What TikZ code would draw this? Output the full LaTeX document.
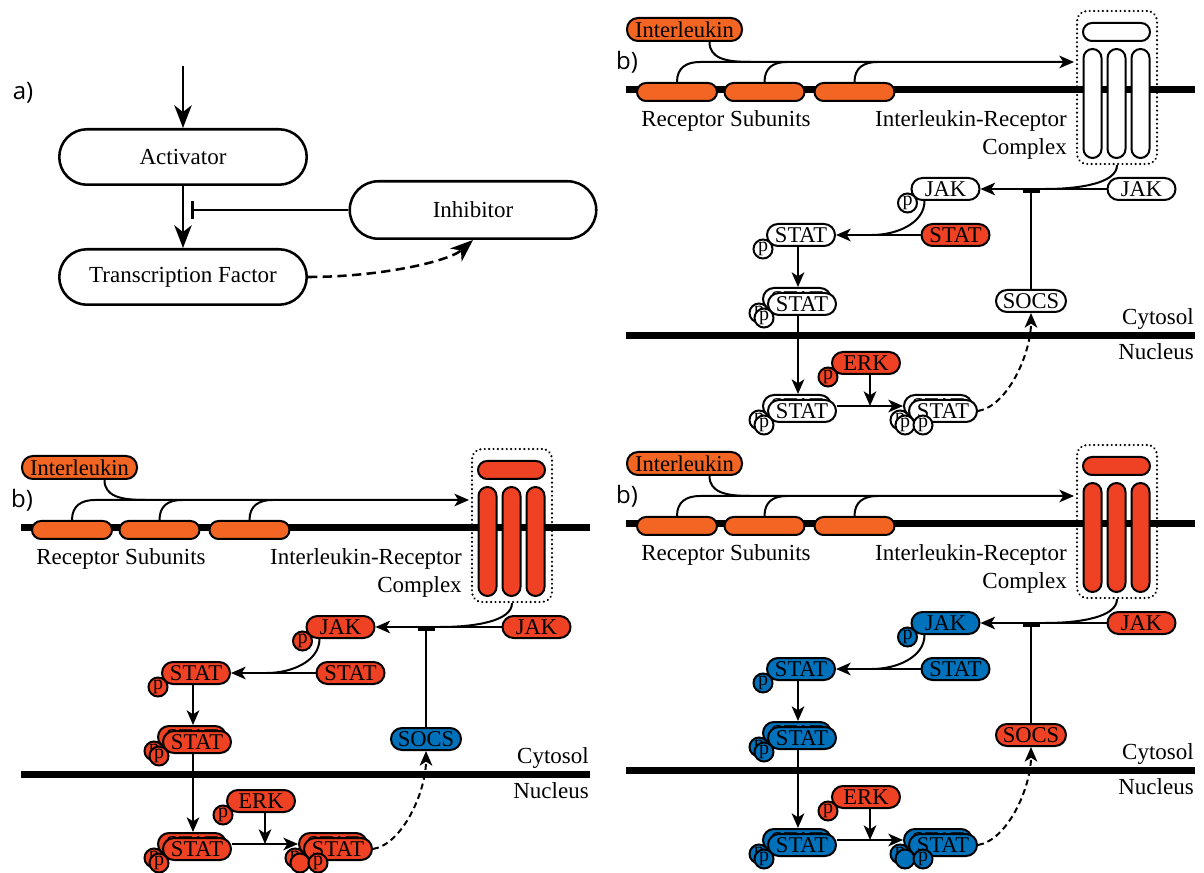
\documentclass[tikz,border=0pt]{standalone}
\usepackage{fontspec}
\setmainfont{Liberation Serif}
\newfontfamily\lblfont{Open Sans}
\newfontfamily\seriffont{Liberation Serif}
\usetikzlibrary{arrows.meta}
\definecolor{ilorange}{RGB}{242,101,34}
\definecolor{cred}{RGB}{239,65,35}
\definecolor{cblue}{RGB}{0,114,188}
\tikzset{
  plaintext/.style={inner sep=0pt, font=\seriffont\fontsize{17.25pt}{20pt}\selectfont},
  lbl/.style={inner sep=0pt, font=\lblfont\fontsize{18pt}{20pt}\selectfont},
  abox/.style={draw, line width=1.9pt, fill=white, rectangle, rounded corners=20.8pt, minimum width=185.6pt, minimum height=41.6pt, inner sep=0pt, font=\seriffont\fontsize{17.25pt}{20pt}\selectfont},
  aarr/.style={line width=1.9pt, -{Stealth[length=17pt,width=13pt,inset=5pt]}},
  ainh/.style={line width=1.9pt, -{Bar[width=13pt,line width=2.4pt]}},
  mol/.style={draw, line width=1.5pt, rectangle, rounded corners=8.25pt, minimum width=51pt, minimum height=16.5pt, inner sep=0pt, font=\seriffont\fontsize{16.9pt}{18pt}\selectfont, fill=white},
  pc/.style={draw, line width=1.5pt, circle, minimum size=14.25pt, inner sep=0pt, font=\seriffont\fontsize{15pt}{15pt}\selectfont, fill=white},
  sub/.style={draw, line width=1.5pt, rectangle, rounded corners=6.75pt, minimum width=60pt, minimum height=13.5pt, inner sep=0pt, fill=ilorange},
  rbar/.style={draw, line width=1.5pt, rectangle, rounded corners=6.75pt, minimum width=13.5pt, minimum height=81.75pt, inner sep=0pt},
  rcap/.style={draw, line width=1.5pt, rectangle, rounded corners=6.75pt, minimum width=50.25pt, minimum height=13.5pt, inner sep=0pt},
  rbox/.style={draw, line width=1.7pt, line cap=round, dash pattern=on 0.1pt off 3.2pt, rectangle, rounded corners=7.5pt, minimum width=60pt, minimum height=114.75pt, inner sep=0pt},
  membrane/.style={line width=5.25pt},
  conn/.style={line width=1.5pt},
  barr/.style={conn, -{Stealth[length=11pt,width=9.5pt,inset=3pt]}},
  binh/.style={conn, -{Bar[width=12.75pt,line width=2.4pt]}},
  bdash/.style={dash pattern=on 4.5pt off 3pt},
  cplx/.style={fill=white}, jakf/.style={fill=white}, pjakf/.style={fill=white},
  statf/.style={fill=white}, pstatf/.style={fill=white}, socsf/.style={fill=white},
  erkf/.style={fill=cred},
}
\newcommand{\bpanel}[1]{%
  \node[lbl] (blabel) at (627,62) {b)};
  \draw[membrane] (626,90) -- (1195,90);
  \draw[membrane] (626,336) -- (1195,336);
  \node[rbox] (box) at (1117,87.5) {};
  \node[rcap,cplx] (cap) at (1116.5,32) {};
  \node[rbar,cplx] (bara) at (1092.5,103.5) {};
  \node[rbar,cplx] (barb) at (1116.5,103.5) {};
  \node[rbar,cplx] (barc) at (1140.5,103.5) {};
  \node[sub] (s1) at (677,92) {};
  \node[sub] (s2) at (764.5,92) {};
  \node[sub] (s3) at (854.5,92) {};
  \node[mol, fill=ilorange, minimum width=86.25pt, minimum height=17.25pt] (il) at (684.5,29.5) {Interleukin};
  \node[plaintext, anchor=base] (rstxt) at (726,127) {Receptor Subunits};
  \node[plaintext, anchor=base east] (irtxt) at (1067,127) {Interleukin-Receptor};
  \node[plaintext, anchor=base east] (cxtxt) at (1067,155) {Complex};
  \node[plaintext, anchor=base east] (cytxt) at (1194,325) {Cytosol};
  \node[plaintext, anchor=base east] (nutxt) at (1194,360) {Nucleus};
  \coordinate (m1) at (700,62);
  \coordinate (m2) at (787,62);
  \coordinate (m3) at (877.5,62);
  \coordinate (mil) at (750,62);
  \coordinate (mend) at (1074,62);
  \draw[barr] (s1.north) .. controls +(0,-14) and +(-14,0) .. (m1) -- (mend);
  \draw[conn] (s2.north) .. controls +(0,-14) and +(-14,0) .. (m2);
  \draw[conn] (s3.north) .. controls +(0,-14) and +(-14,0) .. (m3);
  \draw[conn] ([xshift=18.75pt]il.south) .. controls +(0,16) and +(-25,0) .. (mil);
  % molecules
  \node[mol,jakf] (jak) at (1141.5,189) {JAK};
  \node[mol,pjakf] (pjak) at (945.5,189) {JAK};
  \node[pc,pjakf,xshift=-2.25pt,yshift=-1.5pt] (pjakp) at (pjak.south west) {p};
  \node[mol,statf] (stat) at (955.5,235) {STAT};
  \node[mol,pstatf] (pstat) at (801,235) {STAT};
  \node[pc,pstatf,xshift=-2.25pt,yshift=-1.5pt] (pstatp) at (pstat.south west) {p};
  \node[mol,pstatf] (cdb) at (797,299) {STAT};
  \node[pc,pstatf,xshift=-2.25pt,yshift=-1.5pt] (cdbp) at (cdb.south west) {p};
  \node[mol,pstatf] (cdf) at (802,304) {STAT};
  \node[pc,pstatf,xshift=-2.25pt,yshift=-1.5pt] (cdfp) at (cdf.south west) {p};
  \node[mol,socsf,minimum width=52.5pt] (socs) at (1031,301) {SOCS};
  \node[mol,erkf] (erk) at (866,363) {ERK};
  \node[pc,erkf,xshift=-2.25pt,yshift=-1.5pt] (erkp) at (erk.south west) {p};
  \node[mol,pstatf] (ndb) at (797,406) {STAT};
  \node[pc,pstatf,xshift=-2.25pt,yshift=-1.5pt] (ndbp) at (ndb.south west) {p};
  \node[mol,pstatf] (ndf) at (802,411) {STAT};
  \node[pc,pstatf,xshift=-2.25pt,yshift=-1.5pt] (ndfp) at (ndf.south west) {p};
  \node[mol,pstatf] (rdb) at (938,406) {STAT};
  \node[pc,pstatf,xshift=-2.25pt,yshift=-1.5pt] (rdbpa) at (rdb.south west) {p};
  \node[pc,pstatf,xshift=11.25pt,yshift=-1.5pt] (rdbpb) at (rdb.south west) {p};
  \node[mol,pstatf] (rdf) at (943,411) {STAT};
  \node[pc,pstatf,xshift=-2.25pt,yshift=-1.5pt] (rdfpa) at (rdf.south west) {#1};
  \node[pc,pstatf,xshift=11.25pt,yshift=-1.5pt] (rdfpb) at (rdf.south west) {p};
  % connectors
  \coordinate (jm) at (1045,189);
  \draw[conn] (box.south) .. controls +(0,18) and +(35,0) .. (jm);
  \draw[barr] (jak.west) -- (pjak.east);
  \coordinate (ib) at (1031,190);
  \draw[binh] (socs.north) -- (ib);
  \coordinate (sm) at (872,235);
  \draw[conn] ([xshift=-15.75pt]pjak.south) .. controls +(0,22) and +(25,0) .. (sm);
  \draw[barr] (stat.west) -- (pstat.east);
  \draw[barr] ([xshift=-2.25pt]pstat.south) coordinate (a1) -- (a1 |- cdb.north);
  \draw[barr] ([xshift=-3pt]cdf.south) coordinate (a2) -- (a2 |- ndb.north);
  \draw[barr] ([xshift=3pt]erk.south) coordinate (a3) -- (a3 |- ndb.center);
  \draw[barr] (ndf.east |- ndb.center) -- (rdb.west);
  \draw[barr, bdash] (rdf.east) .. controls +(30,-5) and +(0,40) .. (socs.south);
}
\begin{document}
\begin{tikzpicture}[x=0.75pt,y=-0.75pt]
\useasboundingbox (0,0) rectangle (1204,873);
% panel a
\node[lbl] (alabel) at (23,93) {a)};
\node[abox] (act) at (183,157) {Activator};
\node[abox] (tf) at (183,277) {Transcription Factor};
\node[abox, minimum width=184.9pt, minimum height=43.1pt, rounded corners=21.5pt] (inh) at (473,210) {Inhibitor};
\coordinate (ain) at (183,66);
\draw[aarr] (ain) -- (act.north);
\draw[aarr] (act.south) -- (tf.north);
\coordinate (ibar) at (191,210);
\draw[ainh] (inh.west) -- (ibar);
\draw[aarr, dash pattern=on 7pt off 4pt] (tf.east) .. controls +(70,0) and +(-25,22) .. (inh.south);
% panels b
\begin{scope}[name prefix=ra-, statf/.style={fill=cred}]
  \bpanel{p}
\end{scope}
\begin{scope}[shift={(-605,438)}, name prefix=lb-, cplx/.style={fill=cred}, jakf/.style={fill=cred}, pjakf/.style={fill=cred}, statf/.style={fill=cred}, pstatf/.style={fill=cred}, socsf/.style={fill=cblue}]
  \bpanel{}
\end{scope}
\begin{scope}[shift={(0,434)}, name prefix=rb-, cplx/.style={fill=cred}, jakf/.style={fill=cred}, pjakf/.style={fill=cblue}, statf/.style={fill=cblue}, pstatf/.style={fill=cblue}, socsf/.style={fill=cred}]
  \bpanel{}
\end{scope}
\end{tikzpicture}
\end{document}
